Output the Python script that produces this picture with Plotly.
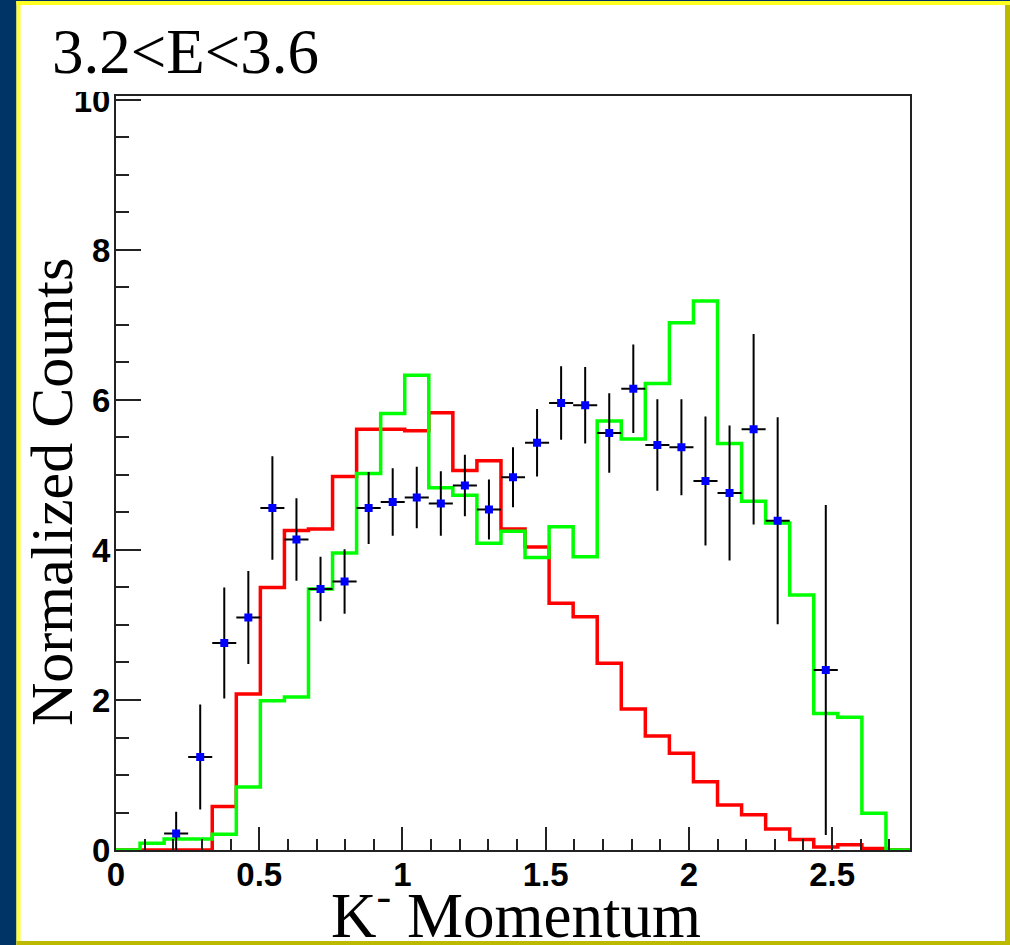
import numpy as np
import plotly.graph_objects as go

# ---------------- data ----------------
n_bins = 33
bin_width = 0.084

red_counts = [0, 0, 0, 0, 0.58, 2.08, 3.50, 4.26, 4.28, 4.98, 5.61, 5.61, 5.59,
              5.83, 5.06, 5.19, 4.28, 4.04, 3.29, 3.11, 2.49, 1.88, 1.52, 1.29,
              0.91, 0.60, 0.47, 0.28, 0.14, 0.04, 0.07, 0.02, 0]

green_counts = [0, 0.09, 0.147, 0.147, 0.21, 0.84, 1.99, 2.04, 3.48, 3.96, 5.02,
                5.82, 6.33, 4.83, 4.73, 4.09, 4.25, 3.90, 4.31, 3.91, 5.72, 5.48,
                6.22, 7.03, 7.32, 5.42, 4.65, 4.36, 3.40, 1.82, 1.77, 0.49, 0]

data_bins = [2, 3, 4, 5, 6, 7, 8, 9, 10, 11, 12, 13, 14, 15, 16, 17, 18, 19,
             20, 21, 22, 23, 24, 25, 26, 27, 29]
data_vals = [0.22, 1.24, 2.76, 3.10, 4.56, 4.14, 3.48, 3.58, 4.56, 4.64, 4.70,
             4.62, 4.86, 4.54, 4.97, 5.43, 5.96, 5.93, 5.56, 6.15, 5.40, 5.37,
             4.92, 4.76, 5.61, 4.39, 2.40]
data_errs = [0.29, 0.70, 0.74, 0.62, 0.69, 0.55, 0.43, 0.43, 0.48, 0.45, 0.41,
             0.43, 0.41, 0.40, 0.40, 0.45, 0.49, 0.51, 0.53, 0.59, 0.61, 0.64,
             0.86, 0.90, 1.27, 1.38, 2.20]

x_ticks = [0, 0.5, 1, 1.5, 2, 2.5]
y_ticks = [0, 2, 4, 6, 8, 10]

title_text = "3.2&lt;E&lt;3.6"
x_title = "K<sup>-</sup> Momentum"
y_title = "Normalized Counts"

# ---------------- derived ----------------
edges = np.arange(n_bins + 1) * bin_width
x_max = edges[-1]
y_max = 10.053


def step_xy(counts):
    xs = list(edges)
    ys = list(counts) + [counts[-1]]
    return xs, ys


centers = [(b + 0.5) * bin_width for b in data_bins]

W, H = 1010, 945
L, R, T, B = 116, 910, 96, 850


def px(xp):
    return (xp - L) / (R - L)


def py(yp):
    return (B - yp) / (B - T)


fig = go.Figure()

rx, ry = step_xy(red_counts)
fig.add_trace(go.Scatter(x=rx, y=ry, mode="lines", line=dict(color="#ff0000", width=3.5, shape="hv"),
                         showlegend=False, hoverinfo="skip"))
gx, gy = step_xy(green_counts)
fig.add_trace(go.Scatter(x=gx, y=gy, mode="lines", line=dict(color="#00ff00", width=3.5, shape="hv"),
                         showlegend=False, hoverinfo="skip"))
fig.add_trace(go.Scatter(
    x=centers, y=data_vals, mode="markers",
    marker=dict(symbol="square", size=8, color="#0000ff", line=dict(width=0)),
    error_y=dict(type="data", array=data_errs, color="black", thickness=2, width=0),
    error_x=dict(type="constant", value=bin_width / 2, color="black", thickness=2, width=0),
    showlegend=False))

axis_common = dict(showgrid=False, zeroline=False, showline=True, linecolor="#222222",
                   linewidth=2, mirror=True, ticks="inside", tickwidth=2, tickcolor="#222222",
                   tickfont=dict(family="Liberation Sans", size=33, weight="bold", color="black"))

fig.update_xaxes(range=[0, x_max], tickmode="array", tickvals=x_ticks,
                 ticktext=[f"{v:g}" for v in x_ticks], ticklen=23, ticklabelstandoff=-6,
                 minor=dict(dtick=0.1, tick0=0, ticklen=11, tickwidth=2, tickcolor="#222222",
                            ticks="inside", showgrid=False),
                 **axis_common)
fig.update_yaxes(range=[0, y_max], tickmode="array", tickvals=y_ticks,
                 ticktext=[f"{v:g}" for v in y_ticks], ticklen=25, ticklabelstandoff=-3,
                 minor=dict(dtick=0.5, tick0=0, ticklen=13, tickwidth=2, tickcolor="#222222",
                            ticks="inside", showgrid=False),
                 **axis_common)

shapes = []


def rect(x0, y0, x1, y1, color, layer="below"):
    shapes.append(dict(type="rect", xref="paper", yref="paper",
                       x0=px(x0), x1=px(x1), y0=py(y1), y1=py(y0),
                       fillcolor=color, line=dict(width=0), layer=layer))


rect(0, 0, 16.5, H, "#003366")
rect(16.5, 0, 20.5, H, "#ffff33")
rect(0, 0, W, 1, "#003366")
rect(16.5, 1, W, 5, "#ffff22")
rect(1005, 5, W, H, "#bdb800")
rect(16.5, 941, W, H, "#bdb800")
rect(60, 78, 112, 92, "white", layer="above")

annotations = [
    dict(text=title_text, xref="paper", yref="paper", x=px(50), y=py(52),
         xanchor="left", yanchor="middle", showarrow=False,
         font=dict(family="Liberation Serif", size=63, color="black")),
    dict(text=x_title, xref="paper", yref="paper", x=px(516), y=py(911),
         xanchor="center", yanchor="middle", showarrow=False,
         font=dict(family="Liberation Serif", size=63, color="black")),
    dict(text=y_title, xref="paper", yref="paper", x=px(52), y=py(492),
         xanchor="center", yanchor="middle", showarrow=False, textangle=-90,
         font=dict(family="Liberation Serif", size=60, color="black")),
]

fig.update_layout(width=W, height=H, margin=dict(l=L, r=W - R, t=T, b=H - B, autoexpand=False),
                  paper_bgcolor="white", plot_bgcolor="white",
                  shapes=shapes, annotations=annotations, showlegend=False)

fig.write_html("out.html")
